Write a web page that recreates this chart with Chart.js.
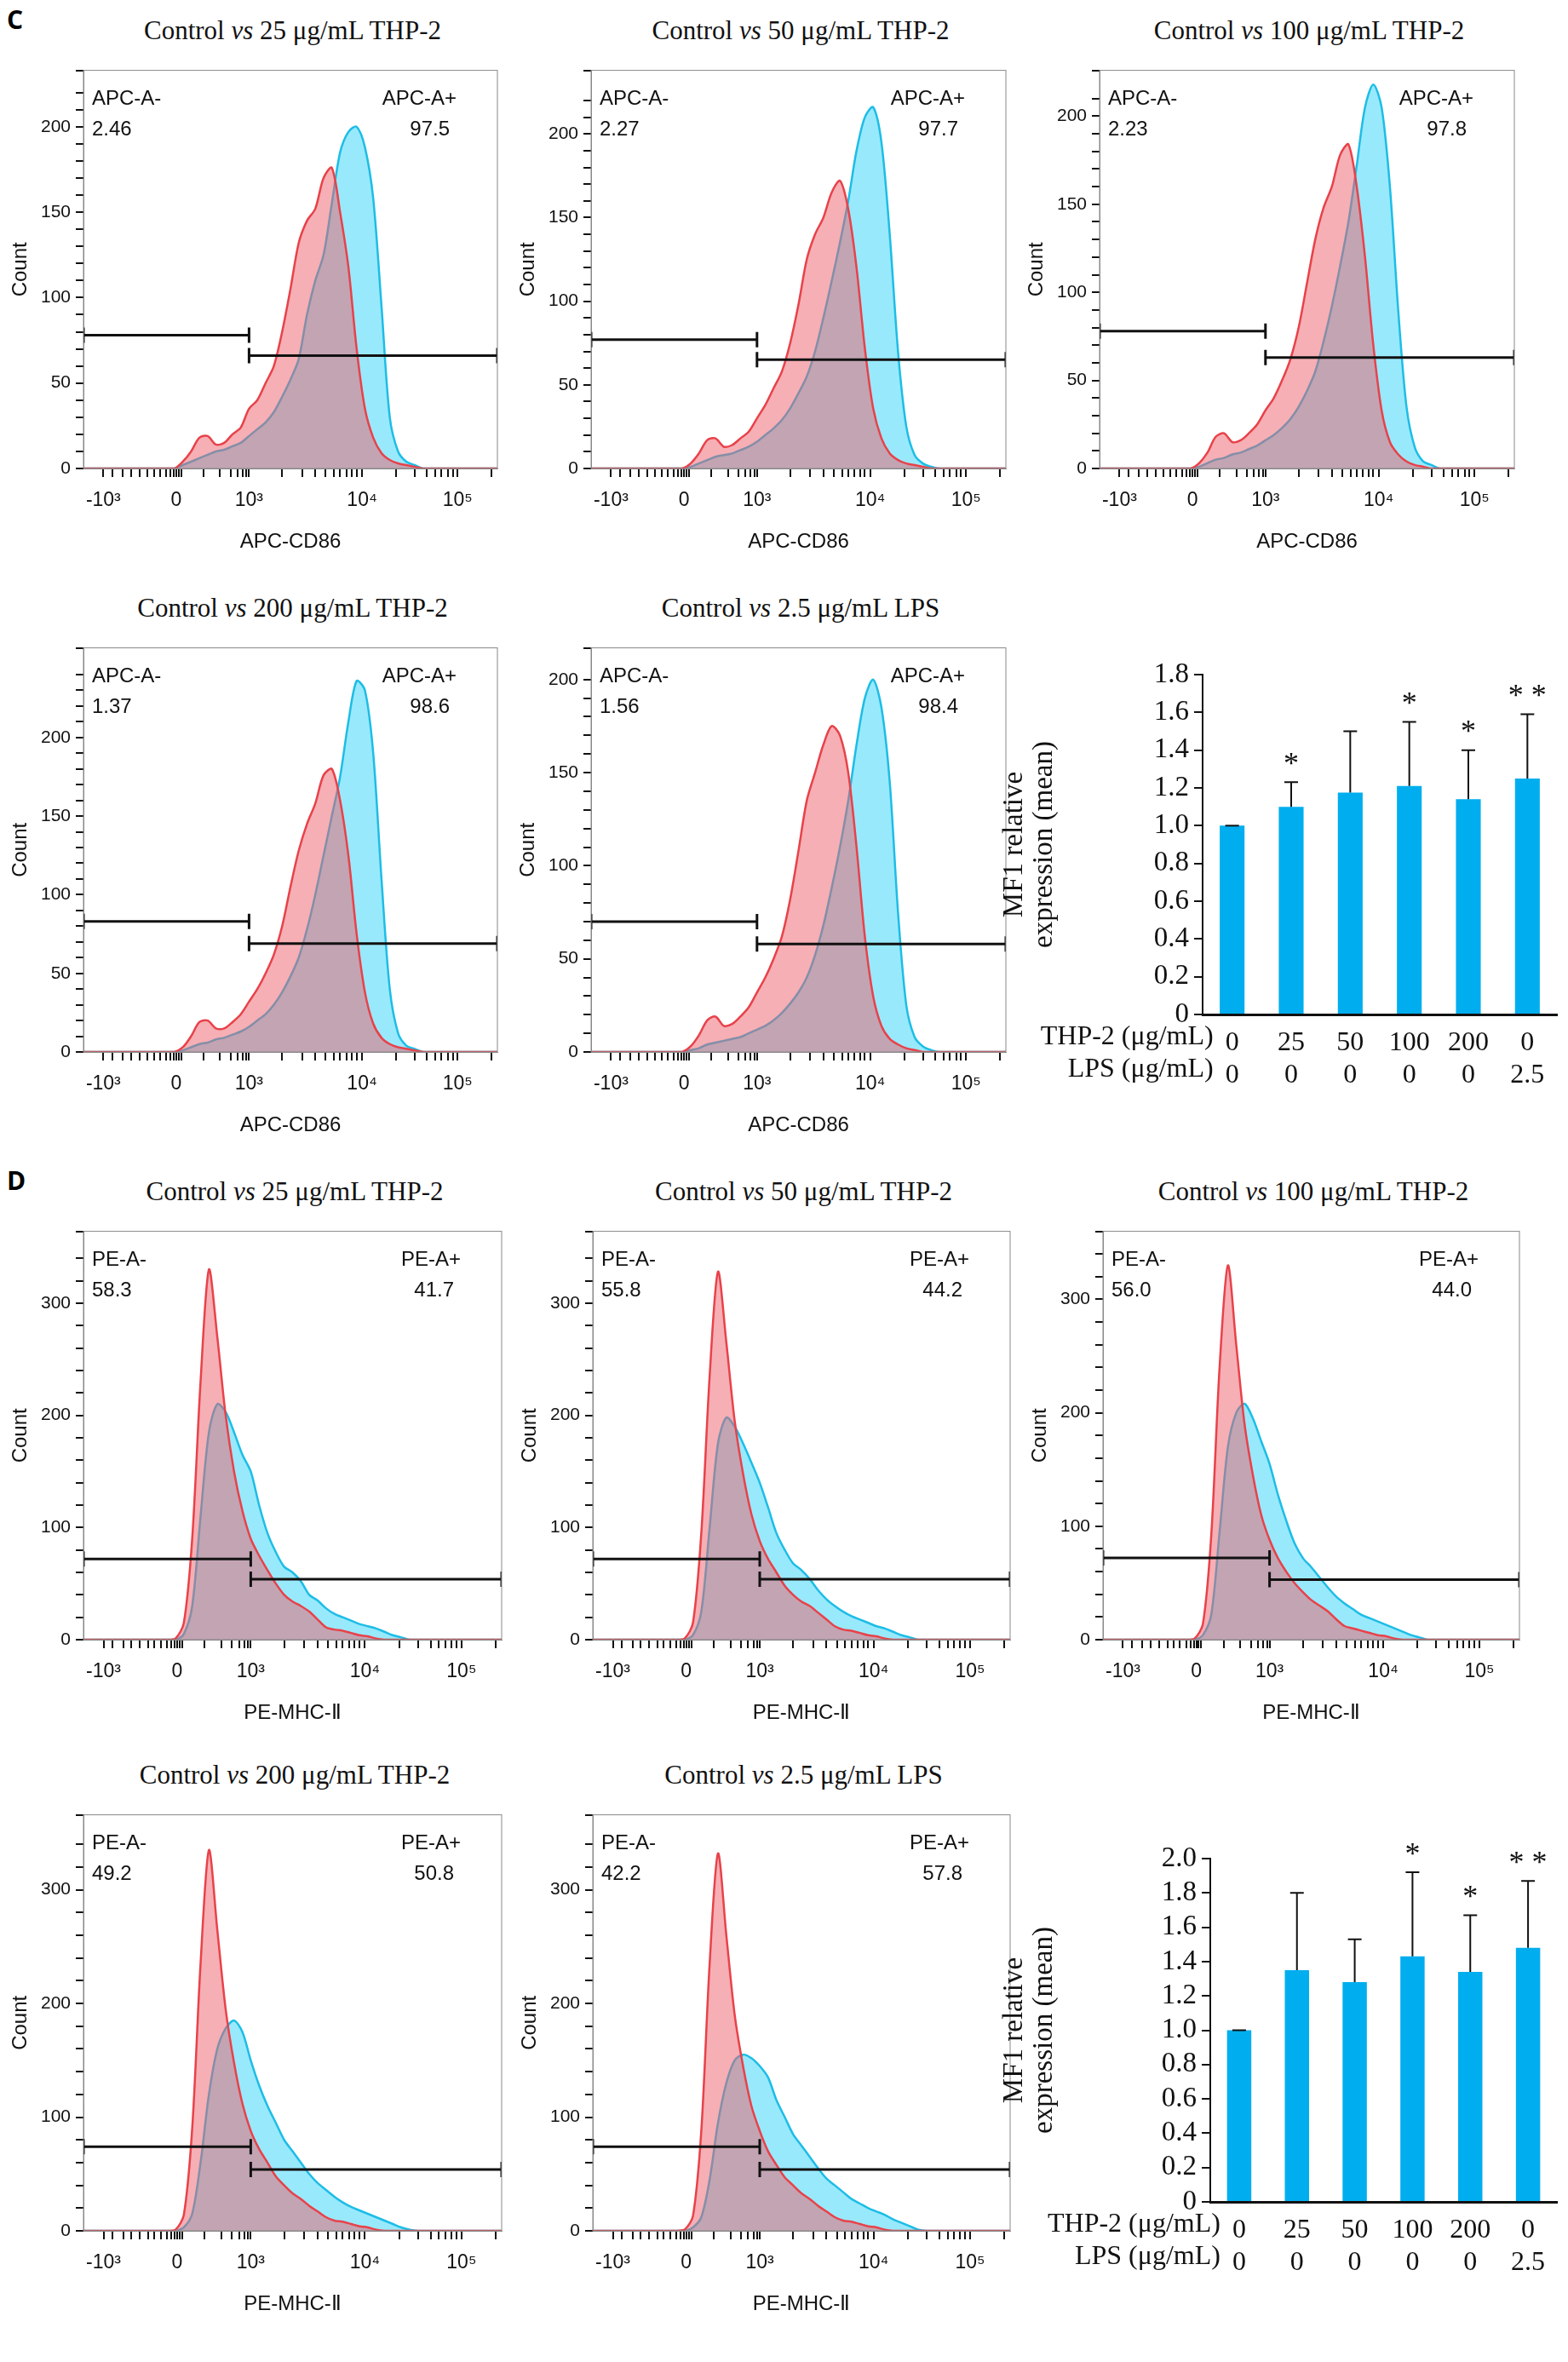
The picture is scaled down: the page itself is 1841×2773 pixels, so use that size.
<!DOCTYPE html>
<html>
<head>
<meta charset="utf-8">
<script src="https://cdn.jsdelivr.net/npm/chart.js@4.4.1/dist/chart.umd.min.js"></script>
<style>
  body { margin: 0; background: #fff; }
  #page { position: relative; width: 1841px; height: 2773px; overflow: hidden; }
  canvas { position: absolute; }
  .title { position: absolute; font-family: "Liberation Serif", "DejaVu Serif", serif; font-size: 31px; color: #111; text-align: center; white-space: nowrap; transform: translate(-50%, -50%); }
  .letter { position: absolute; font-family: "Open Sans", "Liberation Sans", sans-serif; font-weight: bold; font-size: 30px; }
</style>
</head>
<body>
<div id="page"></div>
<script>
// histogram bins (display channel 0..1000, values given for 200..840 step 20)
const binStart = 200, binStep = 20;

const c1Control = [0,0,4,10,18,19,14,15,20,24,35,40,50,60,80,105,132,145,152,170,176,150,118,70,35,18,9,5,3,2,1,0,0];
const c1Treated = [0,0,2,4,6,8,10,11,13,15,19,23,27,33,42,52,64,90,110,125,155,185,197,200,188,158,95,30,10,4,2,0,0];
const c2Control = [0,0,3,9,17,18,13,14,18,22,30,38,48,58,75,98,125,140,150,165,172,155,120,72,36,18,9,5,3,2,1,0,0];
const c2Treated = [0,0,1,3,5,7,8,9,11,13,16,20,24,29,36,45,55,70,90,112,135,160,190,210,216,195,140,70,25,8,3,1,0];
const c3Control = [0,0,3,9,18,20,15,16,20,25,33,40,50,62,80,105,130,148,160,178,184,160,120,70,33,15,8,4,2,1,0,0,0];
const c3Treated = [0,0,1,3,5,6,8,9,11,13,16,19,23,28,35,44,55,72,92,115,140,172,205,218,205,160,90,35,12,4,2,0,0];
const c4Control = [0,0,3,10,19,20,15,15,19,24,32,40,50,62,80,105,128,145,158,176,180,160,125,75,38,18,9,5,3,2,1,0,0];
const c4Treated = [0,0,1,3,5,6,8,9,11,13,16,20,24,30,38,48,60,78,100,125,150,175,210,236,230,190,110,40,12,4,2,0,0];
const c5Control = [0,0,3,9,17,19,14,15,19,24,32,40,50,62,82,108,135,150,165,175,170,150,110,62,30,14,7,4,2,1,0,0,0];
const c5Treated = [0,0,1,2,4,5,6,7,8,10,12,14,17,21,26,32,40,52,68,88,110,135,165,190,200,185,145,75,25,8,3,1,0];

const d1Control = [0,1,15,90,230,330,270,200,150,115,90,75,62,50,40,34,30,25,18,11,9,8,6,4,3,1,0,0,0,0,0,0,0];
const d1Treated = [0,0,5,30,110,185,210,203,185,165,150,120,95,78,65,60,52,40,35,28,23,20,17,14,12,10,7,4,2,0,0,0,0];
const d2Control = [0,1,15,95,235,328,265,195,148,112,88,72,60,48,40,34,30,24,18,12,9,8,6,4,3,1,0,0,0,0,0,0,0];
const d2Treated = [0,0,4,25,100,175,198,190,175,158,140,118,95,80,68,62,54,44,36,30,25,21,18,15,12,10,7,4,2,0,0,0,0];
const d3Control = [0,1,14,92,240,330,260,190,145,110,88,72,60,50,42,35,30,25,18,12,10,8,6,4,3,1,0,0,0,0,0,0,0];
const d3Treated = [0,0,4,22,95,170,200,208,195,175,155,128,105,85,72,64,55,46,38,32,27,22,19,16,13,10,7,4,2,0,0,0,0];
const d4Control = [0,1,14,90,235,335,265,195,148,112,88,72,60,48,40,33,28,22,17,12,9,8,6,4,3,1,0,0,0,0,0,0,0];
const d4Treated = [0,0,3,15,60,120,160,178,185,175,150,128,110,95,80,70,60,50,42,36,30,25,21,18,15,12,9,6,3,1,0,0,0];
const d5Control = [0,1,13,88,235,332,260,190,145,110,88,70,58,47,40,33,28,22,17,12,9,8,6,4,3,1,0,0,0,0,0,0,0];
const d5Treated = [0,0,3,12,45,95,130,150,155,152,145,135,115,100,85,75,65,55,46,40,34,28,24,20,17,14,10,7,4,1,0,0,0];

// x axis ticks (channel position, label)
const majorTicks = [[48,'-10³'],[224,'0'],[400,'10³'],[673,'10⁴'],[904,'10⁵']];
const minorTicks = [70,95,115,135,155,170,185,200,210,218,230,236,290,330,355,372,385,394,480,528,560,585,605,620,635,648,660,755,800,830,850,865,880,892,985];

// bar charts
const barCats = [['0','0'],['25','0'],['50','0'],['100','0'],['200','0'],['0','2.5']];
const cdMean = [1.0,1.10,1.175,1.21,1.14,1.25];
const cdUpper = [1.0,1.23,1.50,1.55,1.40,1.59];
const cdStars = ['','*','','*','*','**'];
const mhcMean = [1.0,1.35,1.28,1.43,1.34,1.48];
const mhcUpper = [1.0,1.80,1.53,1.92,1.67,1.87];
const mhcStars = ['','','','*','*','**'];

const sans = '"Liberation Sans", Arial, sans-serif';
const serif = '"Liberation Serif", "Times New Roman", serif';
const page = document.getElementById('page');

function toPoints(arr) {
  const pts = [{x: 0, y: 0}];
  arr.forEach((v, i) => pts.push({x: binStart + i * binStep, y: v}));
  pts.push({x: 1000, y: 0});
  return pts;
}

function addTitle(html, cx, cy) {
  const d = document.createElement('div');
  d.className = 'title';
  d.style.left = cx + 'px';
  d.style.top = cy + 'px';
  d.innerHTML = html;
  page.appendChild(d);
}

function makeCanvas(left, top, w, h) {
  const c = document.createElement('canvas');
  c.width = w; c.height = h;
  c.style.left = left + 'px'; c.style.top = top + 'px';
  c.style.width = w + 'px'; c.style.height = h + 'px';
  page.appendChild(c);
  return c;
}

const gateLabels = {
  id: 'gateLabels',
  afterDraw(chart, args, o) {
    const {ctx, chartArea: a} = chart;
    ctx.save();
    ctx.fillStyle = '#111';
    ctx.font = '24px ' + sans;
    ctx.textBaseline = 'middle';
    ctx.textAlign = 'left';
    ctx.fillText(o.neg, a.left + 10, a.top + 34);
    ctx.fillText(o.negVal, a.left + 10, a.top + 70);
    ctx.textAlign = 'right';
    ctx.fillText(o.pos, a.right - 48, a.top + 34);
    ctx.fillText(o.posVal, a.right - 56, a.top + 70);
    ctx.restore();
  }
};

function histogram(p) {
  const bw = p.x2 - p.x1, bh = p.y2 - p.y1;
  const cv = makeCanvas(p.x1 - 92, p.y1 - 10, bw + 99, bh + 10 + 105);
  addTitle('Control <i>vs</i> ' + p.title, (p.x1 + p.x2) / 2, p.y1 - 38);
  const gate = (x1, x2, y) => ({
    type: 'line', data: [{x: x1, y: y}, {x: x2, y: y}],
    borderColor: '#111', borderWidth: 3, pointStyle: 'line', pointRotation: 90,
    pointRadius: 9, pointBorderWidth: 3, pointBorderColor: '#111', fill: false, order: 0
  });
  new Chart(cv, {
    type: 'line',
    data: {
      datasets: [
        gate(0, 400, p.gateL), gate(400, 1000, p.gateR),
        {data: toPoints(p.control), borderColor: '#e8424a', backgroundColor: 'rgba(238,95,105,0.5)',
         borderWidth: 2.5, fill: 'origin', pointRadius: 0, tension: 0.3, order: 1},
        {data: toPoints(p.treated), borderColor: '#1dbde6', backgroundColor: 'rgba(70,215,250,0.55)',
         borderWidth: 2.5, fill: 'origin', pointRadius: 0, tension: 0.3, order: 2}
      ]
    },
    options: {
      responsive: false, animation: false, devicePixelRatio: 1,
      layout: {padding: {top: 10, right: 7}},
      plugins: {legend: {display: false}, tooltip: {enabled: false},
        gateLabels: {neg: p.neg, negVal: p.negVal, pos: p.pos, posVal: p.posVal}},
      scales: {
        x: {
          type: 'linear', min: 0, max: 1000,
          afterBuildTicks: s => {
            s.ticks = majorTicks.map(t => ({value: t[0]})).concat(minorTicks.map(v => ({value: v})));
          },
          afterFit: s => { s.height = 105; },
          ticks: {
            autoSkip: false, maxRotation: 0, color: '#111', font: {size: 23, family: sans}, padding: 14,
            callback: v => { const m = majorTicks.find(t => t[0] === v); return m ? m[1] : ''; }
          },
          grid: {drawOnChartArea: false, color: '#111', tickLength: 10, lineWidth: 2},
          border: {color: '#888', width: 1},
          title: {display: true, text: p.xlabel, color: '#111', font: {size: 24, family: sans}, padding: {top: 4}}
        },
        y: {
          min: 0, max: p.ymax,
          afterFit: s => { s.width = 92; },
          ticks: {stepSize: p.ystep, autoSkip: false, color: '#111', font: {size: 21, family: sans}, padding: 6,
            callback: v => (v % p.ylab === 0 ? v : '')},
          grid: {drawOnChartArea: false, color: '#111', tickLength: 9, lineWidth: 2},
          border: {color: '#888', width: 1},
          title: {display: true, text: 'Count', color: '#111', font: {size: 24, family: sans}, padding: {bottom: 4}}
        }
      }
    },
    plugins: [gateLabels, {
      id: 'frame',
      afterDraw(chart) {
        const {ctx, chartArea: a} = chart;
        ctx.save(); ctx.strokeStyle = '#888'; ctx.lineWidth = 1;
        ctx.strokeRect(a.left, a.top, a.right - a.left, a.bottom - a.top);
        ctx.restore();
      }
    }]
  });
}

const cxs = [[98,589],[694,1186],[1291,1783]];
const dxs = [[98,594],[696,1191],[1295,1789]];
const apc = {neg: 'APC-A-', pos: 'APC-A+', xlabel: 'APC-CD86', ystep: 10, ylab: 50};
const pe = {neg: 'PE-A-', pos: 'PE-A+', xlabel: 'PE-MHC-Ⅱ', ystep: 20, ylab: 100};

[
  {title: '25 μg/mL THP-2', x: cxs[0], y: [74,550], control: c1Control, treated: c1Treated, negVal: '2.46', posVal: '97.5', ymax: 233, gateL: 78, gateR: 66},
  {title: '50 μg/mL THP-2', x: cxs[1], y: [74,550], control: c2Control, treated: c2Treated, negVal: '2.27', posVal: '97.7', ymax: 238, gateL: 77, gateR: 65},
  {title: '100 μg/mL THP-2', x: cxs[2], y: [74,550], control: c3Control, treated: c3Treated, negVal: '2.23', posVal: '97.8', ymax: 226, gateL: 78, gateR: 63},
  {title: '200 μg/mL THP-2', x: cxs[0], y: [752,1235], control: c4Control, treated: c4Treated, negVal: '1.37', posVal: '98.6', ymax: 257, gateL: 83, gateR: 69},
  {title: '2.5 μg/mL LPS', x: cxs[1], y: [752,1235], control: c5Control, treated: c5Treated, negVal: '1.56', posVal: '98.4', ymax: 217, gateL: 70, gateR: 58}
].forEach(p => histogram(Object.assign({}, apc, p, {x1: p.x[0], x2: p.x[1], y1: p.y[0], y2: p.y[1]})));

[
  {title: '25 μg/mL THP-2', x: dxs[0], y: [1437,1925], control: d1Control, treated: d1Treated, negVal: '58.3', posVal: '41.7', ymax: 364, gateL: 72, gateR: 54},
  {title: '50 μg/mL THP-2', x: dxs[1], y: [1437,1925], control: d2Control, treated: d2Treated, negVal: '55.8', posVal: '44.2', ymax: 364, gateL: 72, gateR: 54},
  {title: '100 μg/mL THP-2', x: dxs[2], y: [1437,1925], control: d3Control, treated: d3Treated, negVal: '56.0', posVal: '44.0', ymax: 360, gateL: 72, gateR: 53},
  {title: '200 μg/mL THP-2', x: dxs[0], y: [2122,2619], control: d4Control, treated: d4Treated, negVal: '49.2', posVal: '50.8', ymax: 366, gateL: 74, gateR: 54},
  {title: '2.5 μg/mL LPS', x: dxs[1], y: [2122,2619], control: d5Control, treated: d5Treated, negVal: '42.2', posVal: '57.8', ymax: 366, gateL: 74, gateR: 54}
].forEach(p => histogram(Object.assign({}, pe, p, {x1: p.x[0], x2: p.x[1], y1: p.y[0], y2: p.y[1]})));

function barChart(b) {
  const left = 1170, yw = b.x1 - left - 2;
  const cv = makeCanvas(left, b.y1 - 40, 1841 - left, b.y2 - b.y1 + 40 + 95);
  new Chart(cv, {
    type: 'bar',
    data: {labels: barCats, datasets: [{data: b.mean, backgroundColor: '#00aeef', barPercentage: 0.42, categoryPercentage: 1}]},
    options: {
      responsive: false, animation: false, devicePixelRatio: 1,
      layout: {padding: {top: 40, right: 1841 - b.x2 - 1}},
      plugins: {legend: {display: false}, tooltip: {enabled: false}},
      scales: {
        x: {
          afterFit: s => { s.height = 95; },
          ticks: {color: '#111', font: {size: 32, family: serif}, padding: 6, maxRotation: 0, autoSkip: false},
          grid: {display: false}, border: {color: '#111', width: 3}
        },
        y: {
          min: 0, max: b.ymax,
          afterFit: s => { s.width = yw; },
          ticks: {stepSize: 0.2, autoSkip: false, color: '#111', font: {size: 33, family: serif}, padding: 6,
            callback: v => (Math.abs(v) < 1e-9 ? '0' : v.toFixed(1))},
          grid: {drawOnChartArea: false, color: '#111', tickLength: 10, lineWidth: 2},
          border: {color: '#111', width: 2},
          title: {display: true, text: ['MF1 relative', 'expression (mean)'], color: '#111',
            font: {size: 33, family: serif, lineHeight: 1.05}, padding: {bottom: 10}}
        }
      }
    },
    plugins: [{
      id: 'errorBars',
      afterDatasetsDraw(chart) {
        const {ctx, scales: {x, y}} = chart;
        const meta = chart.getDatasetMeta(0);
        ctx.save();
        ctx.strokeStyle = '#111'; ctx.lineWidth = 2; ctx.fillStyle = '#111';
        meta.data.forEach((bar, i) => {
          const top = y.getPixelForValue(b.mean[i]);
          const up = y.getPixelForValue(b.upper[i]);
          ctx.beginPath();
          ctx.moveTo(bar.x, top); ctx.lineTo(bar.x, up);
          ctx.moveTo(bar.x - 8, up); ctx.lineTo(bar.x + 8, up);
          ctx.stroke();
          if (b.stars[i]) {
            ctx.font = '36px ' + serif; ctx.textAlign = 'center'; ctx.textBaseline = 'bottom';
            ctx.fillText(b.stars[i].split('').join(' '), bar.x, up - 2);
          }
        });
        // row labels for the two lines of category ticks
        ctx.font = '32px ' + serif; ctx.textAlign = 'right'; ctx.textBaseline = 'middle';
        const first = x.getPixelForValue(0) - 22;
        ctx.fillText('THP-2 (μg/mL)', first, x.top + 27);
        ctx.fillText('LPS (μg/mL)', first, x.top + 65);
        ctx.restore();
      }
    }]
  });
}

barChart({x1: 1414, x2: 1827, y1: 792, y2: 1191, ymax: 1.8, mean: cdMean, upper: cdUpper, stars: cdStars});
barChart({x1: 1423, x2: 1827, y1: 2182, y2: 2585, ymax: 2.0, mean: mhcMean, upper: mhcUpper, stars: mhcStars});

[['C', 22], ['D', 1385]].forEach(([t, y]) => {
  const d = document.createElement('div');
  d.className = 'letter'; d.textContent = t;
  d.style.left = '8px'; d.style.top = (y - 20) + 'px';
  page.appendChild(d);
});
</script>
</body>
</html>
